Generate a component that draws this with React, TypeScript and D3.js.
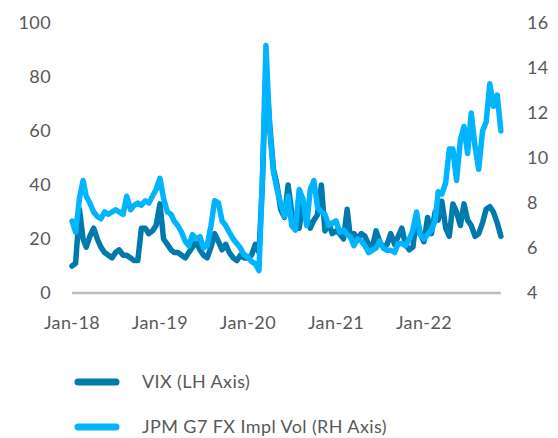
import * as d3 from "d3";

// semi-monthly readings (1st and 16th of each month), Jan 2018 .. Nov 2022
const startMonth = new Date(2018, 0, 1);
const monthCount = 59;

const vix = [
  // 2018
  10, 11, 31, 20, 17, 21, 24, 20, 17, 15, 14, 13, 15, 16, 14, 14, 13, 12, 12, 24, 24, 22, 23, 25,
  // 2019
  33, 20, 18, 16, 15, 15, 14, 13, 15, 17, 19, 16, 14, 13, 17, 22, 19, 16, 18, 15, 13, 12, 14, 13,
  // 2020
  13, 14, 18, 15, 40, 82, 62, 46, 40, 31, 28, 40, 30, 25, 24, 33, 28, 24, 27, 29, 40, 23, 26, 22,
  // 2021
  23, 22, 20, 31, 21, 22, 20, 22, 21, 18, 17, 23, 19, 17, 18, 22, 18, 21, 24, 18, 16, 17, 28, 22,
  // 2022
  19, 28, 22, 30, 27, 34, 24, 21, 33, 30, 25, 33, 27, 25, 21, 22, 26, 31, 32, 30, 26, 21,
];

const fxVol = [
  // 2018
  7.2, 6.7, 8.2, 9.0, 8.3, 8.0, 7.6, 7.4, 7.3, 7.6, 7.5, 7.6, 7.7, 7.6, 7.5, 8.3, 7.7, 7.9, 8.0, 7.9, 8.1, 8.0, 8.3, 8.6,
  // 2019
  9.1, 8.2, 7.6, 7.5, 7.2, 7.0, 6.7, 6.3, 6.1, 6.6, 6.4, 6.5, 6.0, 6.1, 7.0, 8.1, 8.0, 7.2, 7.0, 6.7, 6.4, 6.2, 6.0, 5.7,
  // 2020
  5.6, 5.4, 5.3, 5.0, 9.0, 15.0, 11.2, 9.4, 8.6, 8.0, 7.4, 8.3, 7.0, 6.8, 8.6, 8.2, 7.0, 8.6, 9.0, 7.8, 7.6, 7.5, 7.0, 7.1,
  // 2021
  7.2, 6.7, 6.8, 6.6, 6.5, 6.1, 6.4, 6.3, 6.1, 5.8, 5.9, 6.0, 6.3, 6.0, 5.9, 5.9, 5.8, 6.2, 6.2, 6.1, 6.4, 6.8, 7.6, 6.6,
  // 2022
  6.4, 6.6, 6.8, 7.2, 8.5, 8.4, 8.9, 10.4, 10.4, 9.0, 10.8, 11.4, 10.2, 12.0, 10.5, 9.5, 11.2, 11.6, 13.3, 12.3, 12.8, 11.2,
];

const xTicks = [
  new Date(2018, 0, 1),
  new Date(2019, 0, 1),
  new Date(2020, 0, 1),
  new Date(2021, 0, 1),
  new Date(2022, 0, 1),
];
const leftTicks = [0, 20, 40, 60, 80, 100];
const rightTicks = [4, 6, 8, 10, 12, 14, 16];

const seriesNames = ["VIX (LH Axis)", "JPM G7 FX Impl Vol (RH Axis)"];
const colors = ["#0079ad", "#00b4ff"];

const dates: Date[] = [];
for (let m = 0; m < monthCount; m++) {
  const d = d3.timeMonth.offset(startMonth, m);
  dates.push(d, new Date(d.getFullYear(), d.getMonth(), 16));
}

const width = 558;
const height = 438;
const font = "Lato, 'Open Sans', sans-serif";
const textColor = "#595959";

const App = () => {
  const x = d3
    .scaleTime()
    .domain([new Date(2018, 0, 1), new Date(2022, 0, 1)])
    .range([72, 424]);
  const yLeft = d3.scaleLinear().domain([0, 100]).range([293, 23]);
  const yRight = d3.scaleLinear().domain([4, 16]).range([293, 23]);

  const vixLine = d3
    .line<number>()
    .x((_, i) => x(dates[i]))
    .y((d) => yLeft(d));
  const fxLine = d3
    .line<number>()
    .x((_, i) => x(dates[i]))
    .y((d) => yRight(d));

  const lastDate = dates[vix.length - 1];

  return (
    <svg
      width={width}
      height={height}
      style={{ position: "absolute", left: 0, top: 0, background: "#fff" }}
      fontFamily={font}
      letterSpacing={0.4}
    >
      <line
        x1={x(dates[0])}
        x2={x(lastDate)}
        y1={yLeft(0)}
        y2={yLeft(0)}
        stroke="#bdbdbd"
        strokeWidth={2.5}
      />
      {leftTicks.map((t) => (
        <text
          key={"l" + t}
          x={51}
          y={yLeft(t)}
          dy="0.36em"
          textAnchor="end"
          fontSize={18}
          fill={textColor}
        >
          {t}
        </text>
      ))}
      {rightTicks.map((t) => (
        <text
          key={"r" + t}
          x={527}
          y={yRight(t)}
          dy="0.36em"
          textAnchor="start"
          fontSize={18}
          fill={textColor}
        >
          {t}
        </text>
      ))}
      {xTicks.map((t) => (
        <text
          key={t.getTime()}
          x={x(t)}
          y={323}
          dy="0.36em"
          textAnchor="middle"
          fontSize={18}
          fill={textColor}
        >
          {d3.timeFormat("%b-%y")(t)}
        </text>
      ))}
      <path
        d={vixLine(vix) ?? ""}
        fill="none"
        stroke={colors[0]}
        strokeWidth={5.5}
        strokeLinejoin="round"
        strokeLinecap="round"
      />
      <path
        d={fxLine(fxVol) ?? ""}
        fill="none"
        stroke={colors[1]}
        strokeWidth={5.5}
        strokeLinejoin="round"
        strokeLinecap="round"
      />
      {seriesNames.map((name, i) => (
        <g key={name} transform={`translate(0, ${382 + i * 45})`}>
          <line
            x1={78}
            x2={116}
            stroke={colors[i]}
            strokeWidth={7}
            strokeLinecap="round"
          />
          <text x={142} dy="0.36em" fontSize={18} fill={textColor}>
            {name}
          </text>
        </g>
      ))}
    </svg>
  );
};

export default App;
